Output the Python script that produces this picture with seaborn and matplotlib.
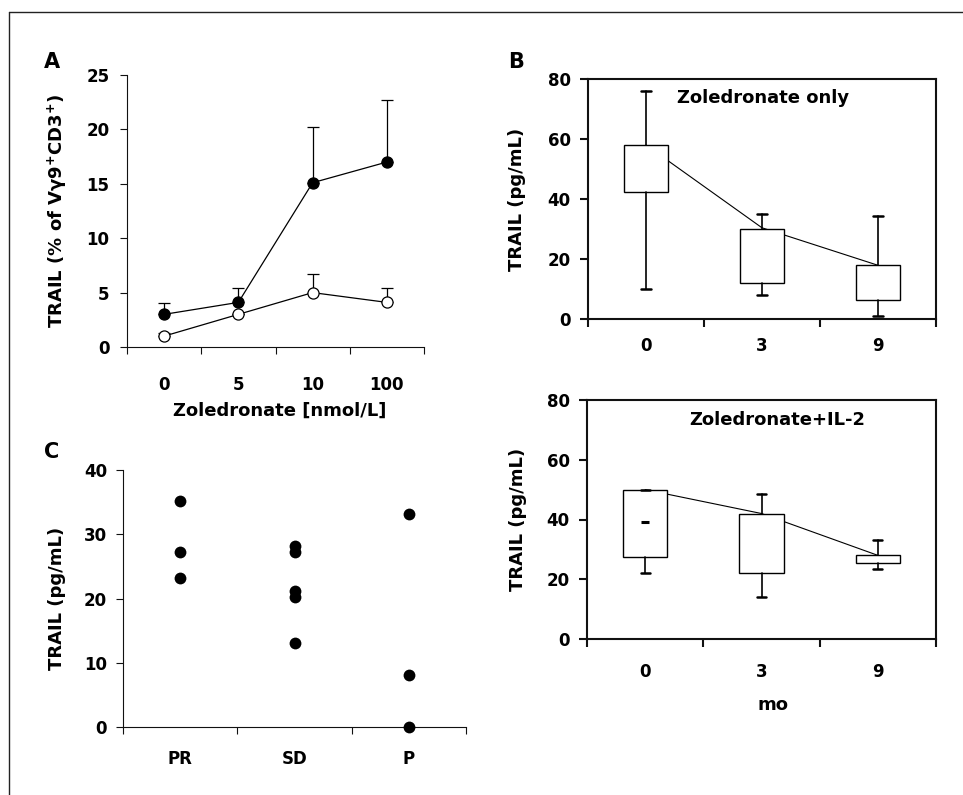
import numpy as np
import pandas as pd
import matplotlib
matplotlib.use("Agg")
import matplotlib.pyplot as plt
from matplotlib.lines import Line2D
import seaborn as sns

# panel A: TRAIL+ cells vs zoledronate dose
doses = ["0", "5", "10", "100"]
trail_filled = [3.0, 4.1, 15.1, 17.0]
trail_filled_top = [4.0, 5.4, 20.2, 22.7]
trail_open = [1.0, 3.0, 5.0, 4.1]
trail_open_top = [1.3, 3.0, 6.7, 5.4]

# panel B: serum TRAIL over months
months = ["0", "3", "9"]
zol_q1 = [42.5, 12.0, 6.5]
zol_q3 = [58.0, 30.0, 18.0]
zol_lo = [10.0, 8.0, 1.0]
zol_hi = [76.0, 35.0, 34.5]
zol_line = [58.0, 30.4, 17.9]

il2_q1 = [27.5, 22.2, 25.3]
il2_q3 = [50.0, 42.0, 28.0]
il2_lo = [22.0, 14.0, 23.4]
il2_hi = [50.0, 48.4, 33.0]
il2_line = [50.0, 42.0, 28.0]
il2_dash = [39.0]  # median mark, month 0 only

# panel C: TRAIL by clinical response
responses = ["PR", "SD", "P"]
pr_vals = [35.2, 27.2, 23.2]
sd_vals = [28.1, 27.2, 21.1, 20.2, 13.1]
p_vals = [33.2, 8.1, 0.0]

sns.set_theme(style="ticks")
plt.rcParams["font.family"] = ["DejaVu Sans"]
plt.rcParams["font.weight"] = "bold"
plt.rcParams["axes.labelweight"] = "bold"
for key in ["text.color", "axes.labelcolor", "xtick.color", "ytick.color",
            "xtick.labelcolor", "ytick.labelcolor"]:
    plt.rcParams[key] = "black"

W, H = 963, 795


def add_axes_px(fig, x0, x1, y0, y1):
    # pixel box (left, right, top, bottom) -> figure fraction
    return fig.add_axes([x0 / W, 1 - y1 / H, (x1 - x0) / W, (y1 - y0) / H])


def style_axis(ax, ncat, ymax, ystep, lw, boxed, xpad, ypad, ticklen):
    ax.set_xlim(-0.5, ncat - 0.5)
    ax.set_ylim(0, ymax)
    ax.set_yticks(np.arange(0, ymax + 1, ystep))
    ax.set_xticks(np.arange(ncat))
    ax.set_xticks(np.arange(ncat + 1) - 0.5, minor=True)
    for side in ["left", "bottom", "top", "right"]:
        ax.spines[side].set_visible(boxed or side in ["left", "bottom"])
        ax.spines[side].set_linewidth(lw)
        ax.spines[side].set_color("#111111")
    ax.tick_params(axis="x", which="major", length=0, pad=xpad,
                   labelsize=12, labelcolor="black")
    ax.tick_params(axis="x", which="minor", length=ticklen, width=lw,
                   direction="out", color="#111111")
    ax.tick_params(axis="y", which="major", length=ticklen, width=lw,
                   direction="out", pad=ypad, labelsize=12, color="#111111",
                   labelcolor="black")
    ax.tick_params(top=False, right=False, which="both")
    for lab in ax.get_xticklabels() + ax.get_yticklabels():
        lab.set_fontweight("bold")
    ax.set_facecolor("white")


def box_stats(q1, q3, lo, hi):
    return [dict(med=a, q1=a, q3=b, whislo=c, whishi=d, fliers=[])
            for a, b, c, d in zip(q1, q3, lo, hi)]


def draw_boxes(ax, stats, line_vals):
    pos = np.arange(len(stats))
    sns.lineplot(x=pos, y=line_vals, ax=ax, color="black", lw=0.8, zorder=2)
    ax.bxp(stats, positions=pos, widths=0.38, patch_artist=True,
           showfliers=False, capwidths=0.08,
           boxprops=dict(facecolor="white", edgecolor="black", linewidth=1.0),
           whiskerprops=dict(color="black", linewidth=1.2),
           capprops=dict(color="black", linewidth=1.8),
           medianprops=dict(linewidth=0), zorder=3)


fig = plt.figure(figsize=(W / 100, H / 100), dpi=100)
fig.patch.set_facecolor("white")

# ---- A ----
axA = add_axes_px(fig, 127, 424, 75, 347)
xa = np.arange(len(doses))
for vals, top, face in [(trail_filled, trail_filled_top, "black"),
                        (trail_open, trail_open_top, "white")]:
    err = [np.zeros(len(vals)), np.array(top) - np.array(vals)]
    axA.errorbar(xa, vals, yerr=err, fmt="none", ecolor="black",
                 elinewidth=0.9, capsize=4.5, capthick=0.9, zorder=2)
    sns.lineplot(x=xa, y=vals, ax=axA, color="black", lw=0.9, zorder=3,
                 marker="o", markersize=8, markerfacecolor=face,
                 markeredgecolor="black", markeredgewidth=0.9)
style_axis(axA, len(doses), 25, 5, 0.8, False, 21, 7.5, 5)
axA.set_xticklabels(doses)
axA.set_xlabel("Zoledronate [nmol/L]", fontsize=13, fontweight="bold")
axA.set_ylabel("TRAIL (% of V$\\mathbf{\\gamma}$9$^{\\mathbf{+}}$CD3$^{\\mathbf{+}}$)",
               fontsize=13, fontweight="bold")
axA.xaxis.set_label_coords(0.515, -0.235)
axA.xaxis.label.set_va("center")
axA.yaxis.set_label_coords(-0.236, 0.5)
axA.yaxis.label.set_va("center")

# ---- B top ----
axB1 = add_axes_px(fig, 588, 936, 79, 319)
draw_boxes(axB1, box_stats(zol_q1, zol_q3, zol_lo, zol_hi), zol_line)
style_axis(axB1, len(months), 80, 20, 1.5, True, 13, 7, 5.5)
axB1.set_xticklabels(months)
axB1.set_ylabel("TRAIL (pg/mL)", fontsize=13, fontweight="bold")
axB1.yaxis.set_label_coords(-0.204, 0.5)
axB1.yaxis.label.set_va("center")
axB1.text(0.503, 0.921, "Zoledronate only", transform=axB1.transAxes,
          ha="center", va="center", fontsize=13, fontweight="bold")

# ---- B bottom ----
axB2 = add_axes_px(fig, 587, 936, 400, 639)
draw_boxes(axB2, box_stats(il2_q1, il2_q3, il2_lo, il2_hi), il2_line)
axB2.plot(np.arange(len(il2_dash)), il2_dash, marker="_", ms=6, mew=2.2,
          color="black", ls="none", zorder=4)
style_axis(axB2, len(months), 80, 20, 1.5, True, 17, 7, 5.5)
axB2.set_xticklabels(months)
axB2.set_ylabel("TRAIL (pg/mL)", fontsize=13, fontweight="bold")
axB2.set_xlabel("mo", fontsize=13, fontweight="bold")
axB2.yaxis.set_label_coords(-0.198, 0.5)
axB2.yaxis.label.set_va("center")
axB2.xaxis.set_label_coords(0.533, -0.275)
axB2.xaxis.label.set_va("center")
axB2.text(0.544, 0.916, "Zoledronate+IL-2", transform=axB2.transAxes,
          ha="center", va="center", fontsize=13, fontweight="bold")

# ---- C ----
axC = add_axes_px(fig, 123, 466, 470, 727)
df_c = pd.DataFrame({
    "response": ["PR"] * len(pr_vals) + ["SD"] * len(sd_vals) + ["P"] * len(p_vals),
    "trail": pr_vals + sd_vals + p_vals,
})
sns.stripplot(data=df_c, x="response", y="trail", order=responses,
              jitter=False, color="black", size=8.5, ax=axC,
              clip_on=False, zorder=3)
style_axis(axC, len(responses), 40, 10, 0.8, False, 16.5, 6.5, 5)
axC.set_xticklabels(responses)
axC.set_xlabel("")
axC.set_ylabel("TRAIL (pg/mL)", fontsize=13, fontweight="bold")
axC.yaxis.set_label_coords(-0.191, 0.5)
axC.yaxis.label.set_va("center")

# panel letters
for letter, (px, py) in {"A": (52, 62), "B": (516, 62), "C": (52, 452)}.items():
    fig.text(px / W, 1 - py / H, letter, ha="center", va="center",
             fontsize=15, fontweight="bold", color="black")

# outer frame (left and top edges only)
fig.add_artist(Line2D([9 / W, 9 / W], [0, 1 - 12 / H], color="#222222",
                      lw=1.0, transform=fig.transFigure))
fig.add_artist(Line2D([9 / W, 1], [1 - 12 / H, 1 - 12 / H], color="#222222",
                      lw=1.0, transform=fig.transFigure))

fig.savefig("out.png", dpi=100, facecolor="white")
